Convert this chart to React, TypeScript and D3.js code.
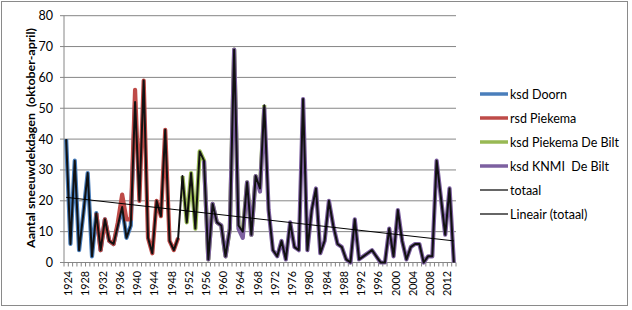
import React from "react";
import * as d3 from "d3";

const years: number[] = d3.range(1924, 2015);

const totaal: number[] = [
  40, 6, 33, 4, 16, 29, 2, 16, 4, 14,
  7, 6, 12, 18, 8, 12, 52, 20, 59, 8,
  3, 20, 15, 43, 7, 4, 8, 28, 13, 29,
  11, 36, 33, 1, 19, 13, 12, 2, 11, 69,
  12, 10, 26, 9, 28, 24, 51, 17, 4, 2,
  7, 1, 13, 5, 4, 53, 4, 17, 24, 3,
  7, 20, 12, 6, 5, 1, 0, 14, 1, 2,
  3, 4, 2, 0, 0, 11, 2, 17, 7, 1,
  5, 6, 6, 0, 2, 2, 33, 21, 9, 24,
  0,
];

// ksd Doorn 1924-1940
const doornStart = 1924;
const doorn: number[] = [40, 6, 33, 4, 16, 29, 2, 16, 4, 14, 7, 6, 12, 18, 8, 12, 52];

// rsd Piekema 1931-1950
const piekemaStart = 1931;
const piekema: number[] = [16, 4, 14, 7, 6, 13, 22, 14, 14, 56, 20, 59, 8, 3, 20, 15, 43, 7, 4, 8];

// ksd Piekema De Bilt 1951-1970
const piekemaBiltStart = 1951;
const piekemaBilt: number[] = [28, 13, 29, 11, 36, 33, 1, 19, 13, 12, 2, 11, 69, 12, 10, 26, 9, 28, 24, 51];

// ksd KNMI De Bilt 1956-2014
const knmiStart = 1956;
const knmi: number[] = [
  33, 1, 19, 13, 12, 2, 11, 69, 11, 8,
  26, 9, 28, 23, 50, 17, 4, 2, 7, 1,
  13, 5, 4, 53, 4, 17, 24, 3, 7, 20,
  12, 6, 5, 1, 0, 14, 1, 2, 3, 4,
  2, 0, 0, 11, 2, 17, 7, 1, 5, 6,
  6, 0, 2, 2, 33, 21, 9, 24, 0,
];

const yTicks: number[] = [0, 10, 20, 30, 40, 50, 60, 70, 80];
const xLabelYears: number[] = d3.range(1924, 2013, 4);

const legendItems = [
  { name: "ksd Doorn", color: "#4A7EBB", w: 3.5 },
  { name: "rsd Piekema", color: "#BE4B48", w: 3.5 },
  { name: "ksd Piekema De Bilt", color: "#98B954", w: 3.5 },
  { name: "ksd KNMI  De Bilt", color: "#7D60A0", w: 3.5 },
  { name: "totaal", color: "#000000", w: 1.2 },
  { name: "Lineair (totaal)", color: "#000000", w: 1.2 },
];

const FONT = "Lato, 'Liberation Sans', sans-serif";

export default function App() {
  const left = 64;
  const right = 456;
  const top = 15.7;
  const bottom = 262.5;

  const x = d3.scaleBand<number>().domain(years).range([left, right]).paddingInner(0).paddingOuter(0);
  const bw = x.bandwidth();
  const cx = (yr: number) => (x(yr) as number) + bw / 2;
  const y = d3.scaleLinear().domain([0, 80]).range([bottom, top]);

  const line = d3
    .line<[number, number]>()
    .x((d) => cx(d[0]))
    .y((d) => y(d[1]));

  const toPts = (start: number, vals: number[]) =>
    vals.map((v, i) => [start + i, v] as [number, number]);

  // linear regression on totaal
  const n = years.length;
  const mx = d3.mean(years) as number;
  const my = d3.mean(totaal) as number;
  let sxy = 0;
  let sxx = 0;
  years.forEach((yr, i) => {
    sxy += (yr - mx) * (totaal[i] - my);
    sxx += (yr - mx) * (yr - mx);
  });
  const slope = sxy / sxx;
  const icpt = my - slope * mx;
  const trendPts: [number, number][] = [
    [years[0], icpt + slope * years[0]],
    [years[n - 1], icpt + slope * years[n - 1]],
  ];

  const series = [
    { pts: toPts(doornStart, doorn), color: legendItems[0].color },
    { pts: toPts(piekemaStart, piekema), color: legendItems[1].color },
    { pts: toPts(piekemaBiltStart, piekemaBilt), color: legendItems[2].color },
    { pts: toPts(knmiStart, knmi), color: legendItems[3].color },
  ];

  const boundaries = years.map((yr) => x(yr) as number).concat([right]);

  return (
    <svg
      width={632}
      height={310}
      style={{ position: "absolute", left: 0, top: 0, background: "#fff" }}
      fontFamily={FONT}
    >
      <rect x={1.5} y={1.5} width={626} height={304} fill="#fff" stroke="#8a8a8a" strokeWidth={1} />

      {/* gridlines */}
      {yTicks.filter((t) => t > 0).map((t) => (
        <line key={"g" + t} x1={left} x2={right} y1={y(t)} y2={y(t)} stroke="#868686" strokeWidth={1} />
      ))}

      {/* y axis */}
      <line x1={left} x2={left} y1={top} y2={bottom} stroke="#868686" strokeWidth={1} />
      {yTicks.map((t) => (
        <g key={"yt" + t}>
          <line x1={left - 4} x2={left} y1={y(t)} y2={y(t)} stroke="#868686" strokeWidth={1} />
          <text x={53} y={y(t)} textAnchor="end" dominantBaseline="central" fontSize={12.5} fill="#000">
            {t}
          </text>
        </g>
      ))}

      {/* x axis */}
      <line x1={left} x2={right} y1={bottom} y2={bottom} stroke="#868686" strokeWidth={1} />
      {boundaries.map((b, i) => (
        <line key={"xt" + i} x1={b} x2={b} y1={bottom} y2={bottom + 4} stroke="#868686" strokeWidth={1} />
      ))}
      {xLabelYears.map((yr) => (
        <text
          key={"xl" + yr}
          transform={`translate(${cx(yr) + 1.5},${271}) rotate(-90)`}
          textAnchor="end"
          dominantBaseline="central"
          fontSize={10.8}
          fill="#000"
        >
          {yr}
        </text>
      ))}

      {/* y title */}
      <text
        transform={`translate(${30},${138}) rotate(-90)`}
        textAnchor="middle"
        dominantBaseline="central"
        fontSize={11.8}
        fontWeight="bold"
        textLength={220}
        lengthAdjust="spacingAndGlyphs"
        fill="#000"
        style={{ whiteSpace: "pre" }}
      >
        {"Aantal sneeuwdekdagen  (oktober-april)"}
      </text>

      {/* colored series */}
      {series.map((s, i) => (
        <path key={"s" + i} d={line(s.pts) || ""} fill="none" stroke={s.color} strokeWidth={4.2} strokeLinejoin="round" />
      ))}

      {/* totaal */}
      <path d={line(toPts(years[0], totaal)) || ""} fill="none" stroke="#111" strokeWidth={2} strokeLinejoin="round" />

      {/* trend */}
      <path d={line(trendPts) || ""} fill="none" stroke="#000" strokeWidth={1} />

      {/* legend */}
      {legendItems.map((it, i) => {
        const ly = 94 + i * 24;
        return (
          <g key={"lg" + i}>
            <line x1={480} x2={508} y1={ly} y2={ly} stroke={it.color} strokeWidth={it.w} />
            <text x={510} y={ly} dominantBaseline="central" fontSize={12.5} fill="#000" style={{ whiteSpace: "pre" }}>
              {it.name}
            </text>
          </g>
        );
      })}
    </svg>
  );
}
